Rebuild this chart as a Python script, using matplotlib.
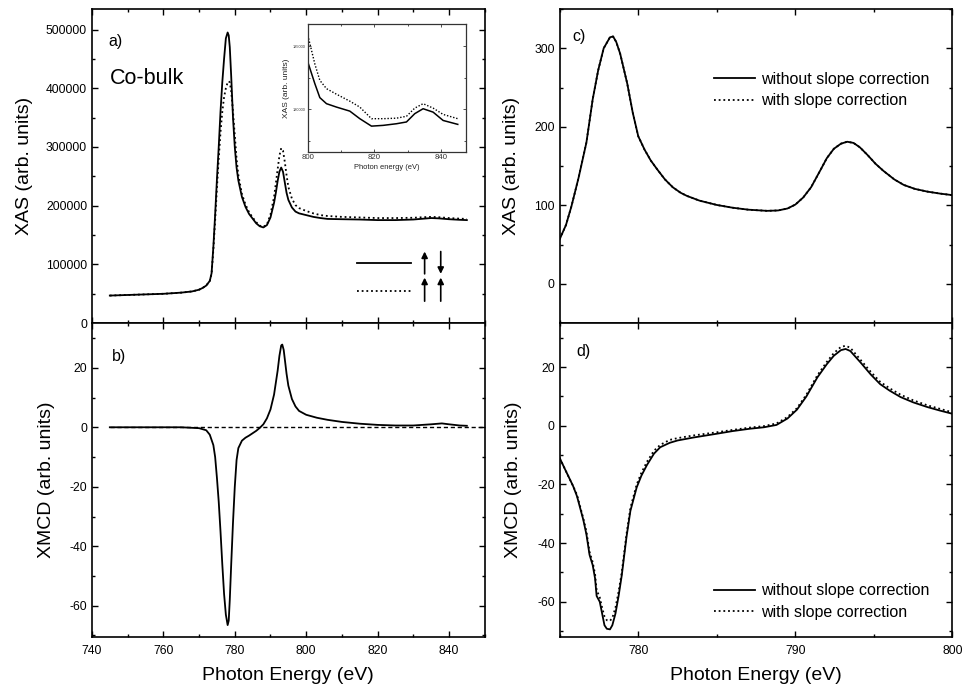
import numpy as np
import matplotlib
matplotlib.use('Agg')
import matplotlib.pyplot as plt
from matplotlib.lines import Line2D
from matplotlib.ticker import MultipleLocator

plt.rcParams['font.family'] = ['Liberation Sans', 'DejaVu Sans']
plt.rcParams['axes.unicode_minus'] = False

# panel a) XAS, Co-bulk (values in arb. units)
e_a = [745, 750, 755, 760, 765, 768, 770, 771, 772, 773, 773.5, 774, 774.5, 775, 775.5,
       776, 776.5, 777, 777.5, 778, 778.3, 778.6, 779, 779.5, 780, 780.5, 781, 782, 783,
       784, 785, 786, 787, 788, 789, 790, 791, 791.5, 792, 792.5, 793, 793.5, 794, 794.5,
       795, 796, 797, 798, 800, 802, 804, 806, 810, 815, 820, 825, 830, 833, 835, 837,
       840, 843, 845]
xas_anti = [47, 48, 49, 50, 52, 54, 57, 60, 64, 72, 85, 130, 185, 245, 300,
            360, 410, 450, 485, 495, 490, 470, 420, 350, 300, 265, 243, 215, 198,
            186, 178, 170, 165, 163, 167, 180, 205, 222, 242, 258, 265, 258, 240, 222,
            210, 197, 190, 187, 184, 181, 179, 177.5, 177, 176.5, 175.5, 175.5, 176.5, 178, 179, 178.5,
            177, 176, 175.5]
xas_par = [47, 48, 49, 50, 52, 54, 57, 60, 64, 72, 84, 125, 175, 230, 280,
           325, 360, 385, 400, 410, 412, 410, 395, 360, 320, 280, 252, 220, 202,
           189, 180, 172, 166, 164, 168, 185, 215, 238, 262, 285, 298, 294, 275, 252,
           232, 212, 201, 196, 191, 187, 184, 182.5, 181, 180, 179, 179, 179.5, 180.5, 181, 180.5,
           179, 178, 177.5]

# inset of a)
e_in = [800, 802.1, 803.6, 805.6, 808.6, 812.6, 815.6, 819.1, 822.6, 826.6, 829.6, 832.1,
        834.6, 837.6, 840.6, 845]
in_anti = [183750, 182040, 180930, 180450, 180180, 179860, 179260, 178670, 178730, 178860,
           179000, 179660, 180050, 179780, 179120, 178810]
in_par = [185870, 183600, 182300, 181640, 181200, 180650, 180180, 179260, 179260, 179300,
          179450, 180100, 180450, 180100, 179600, 179260]

# panel b) XMCD, Co-bulk
e_b = [745, 755, 765, 770, 772, 773, 774, 774.5, 775, 775.5, 776, 776.5, 777, 777.5, 778,
       778.3, 778.6, 779, 779.5, 780, 780.5, 781, 782, 783, 784, 785, 786, 787, 788, 789,
       790, 791, 792, 792.5, 793, 793.3, 793.7, 794, 794.5, 795, 796, 797, 798, 800, 803,
       806, 810, 815, 820, 825, 830, 835, 838, 840, 843, 845]
xmcd_b = [0, 0, 0, -0.3, -1, -2.5, -6, -10, -17, -25, -35, -46, -56, -63, -66.5,
          -65, -58, -46, -32, -20, -11, -7, -4.5, -3.5, -2.8, -2, -1.2, -0.2, 1, 3,
          6, 11, 19, 24, 27.5, 27.8, 26, 23, 18, 14, 9.5, 7, 5.5, 4.2, 3.2,
          2.5, 1.8, 1.2, 0.8, 0.6, 0.6, 1.0, 1.3, 1.0, 0.6, 0.5]
e_zero = [745, 850]
zero_ref = [0, 0]

# panel c) XAS, slope correction
e_c = [775.0, 775.4, 775.75, 776.2, 776.7, 777.1, 777.45, 777.8, 778.2, 778.4, 778.6, 778.85,
       779.3, 779.65, 780.0, 780.4, 780.8, 781.2, 781.7, 782.2, 782.7, 783.1, 783.9, 785, 786,
       787, 788.2, 788.9, 789.5, 790.0, 790.5, 791.0, 791.6, 792.0, 792.45, 792.9, 793.3, 793.7,
       794.1, 794.6, 795.1, 795.6, 796.3, 796.9, 797.6, 798.4, 799.2, 800]
xas_c_without = [57, 75, 99, 135, 180, 235, 272, 300, 314, 315, 308, 293,
                 255, 218, 188, 171, 157, 146, 133, 123, 116, 112, 106, 100.5, 97,
                 94.5, 93, 93.5, 96, 101, 110, 123, 145, 160, 172, 178.5, 181, 179.5,
                 174, 164, 153, 144, 133, 126, 121, 117.5, 115, 113]
xas_c_with = [57, 75, 99, 135, 180, 235, 272, 300, 314, 315, 308, 293,
              255, 218, 188, 171, 157, 146, 133, 123, 116, 112, 106, 100.5, 97,
              94.5, 93, 93.5, 96, 101, 110, 123, 145, 160, 172, 178.5, 181, 179.5,
              174, 164, 153, 144, 133, 126, 121, 117.5, 115, 113]

# panel d) XMCD, slope correction
e_d = [775.0, 775.4, 775.85, 776.1, 776.3, 776.5, 776.7, 776.9, 777.1, 777.25, 777.35, 777.55,
       777.7, 777.85, 778.0, 778.2, 778.35, 778.55, 778.75, 778.95, 779.25, 779.5, 779.9, 780.2,
       780.55, 781.0, 781.4, 782.0, 782.5, 783.5, 785, 786, 787.1, 788, 788.8, 789.5, 790.1,
       790.7, 791.4, 792, 792.45, 792.9, 793.2, 793.5, 794.15, 794.8, 795.4, 796, 796.7, 797.5,
       798.4, 799.2, 800]
xmcd_d_without = [-11, -15.5, -20.5, -24, -28, -32, -37, -44, -47.5, -52, -58, -60,
                  -64, -68, -69.2, -69.4, -68, -64, -58, -51, -38, -29, -21, -17,
                  -13.4, -9.5, -7.3, -5.8, -5.0, -4.0, -2.7, -1.8, -1.0, -0.5, 0.3, 2.5, 5.5,
                  10, 16.5, 21, 23.9, 25.8, 26.2, 25.5, 21.6, 17.5, 14.2, 12, 9.8, 8,
                  6.4, 5.2, 4.1]
xmcd_d_with = [-11, -15.5, -20.5, -23.5, -27.5, -31.5, -36, -43, -46.5, -50.5, -56, -58.5,
               -62, -65, -66.3, -66.5, -65.5, -62, -56.5, -50, -37, -28, -20, -16,
               -12.3, -8.5, -6.5, -4.8, -4.2, -3.3, -2.2, -1.4, -0.6, -0.1, 0.8, 3, 6,
               10.6, 17.2, 21.8, 24.8, 26.9, 27.3, 26.6, 22.5, 18.4, 15.0, 12.8, 10.6, 8.7,
               7.0, 5.8, 4.6]

DOT = (0, (1, 1.6))
LW = 1.3
TICK_FS = 8.7
LABEL_FS = 14


def style_axes(ax):
    for s in ax.spines.values():
        s.set_linewidth(1.2)
    ax.tick_params(which='both', direction='in', top=True, right=True, labelsize=TICK_FS, width=1)
    ax.tick_params(which='major', length=4)
    ax.tick_params(which='minor', length=2.5)
    ax.tick_params(axis='x', pad=6)


fig = plt.figure(figsize=(9.65, 6.92), dpi=100)
ax_a = fig.add_axes([0.0953, 0.533, 0.407, 0.454])
ax_b = fig.add_axes([0.0953, 0.0795, 0.407, 0.4535])
ax_c = fig.add_axes([0.580, 0.533, 0.407, 0.454])
ax_d = fig.add_axes([0.580, 0.0795, 0.407, 0.4535])

# a)
ax_a.plot(e_a, np.array(xas_anti) * 1000, color='k', lw=LW)
ax_a.plot(e_a, np.array(xas_par) * 1000, color='k', lw=LW, linestyle=DOT)
ax_a.set_xlim(740, 850)
ax_a.set_ylim(0, 535000)
ax_a.xaxis.set_major_locator(MultipleLocator(20))
ax_a.xaxis.set_minor_locator(MultipleLocator(10))
ax_a.yaxis.set_major_locator(MultipleLocator(100000))
ax_a.yaxis.set_minor_locator(MultipleLocator(50000))
style_axes(ax_a)
ax_a.tick_params(axis='x', labelbottom=False)
ax_a.set_ylabel('XAS (arb. units)', fontsize=LABEL_FS)
ax_a.yaxis.set_label_coords(-0.15, 0.5)
ax_a.text(0.043, 0.898, 'a)', transform=ax_a.transAxes, fontsize=11.5, va='center')
ax_a.text(0.046, 0.78, 'Co-bulk', transform=ax_a.transAxes, fontsize=15.5, va='center')

# spin-configuration key with arrows
ax_a.add_line(Line2D([0.674, 0.812], [0.191, 0.191], transform=ax_a.transAxes, color='k', lw=LW))
ax_a.add_line(Line2D([0.674, 0.812], [0.103, 0.103], transform=ax_a.transAxes, color='k', lw=LW,
                     linestyle=DOT))
arr = dict(arrowstyle='-|>', color='k', lw=1.2, mutation_scale=9, shrinkA=0, shrinkB=0)
ax_a.annotate('', xy=(0.847, 0.228), xytext=(0.847, 0.157), xycoords='axes fraction', arrowprops=arr)
ax_a.annotate('', xy=(0.888, 0.157), xytext=(0.888, 0.228), xycoords='axes fraction', arrowprops=arr)
ax_a.annotate('', xy=(0.847, 0.145), xytext=(0.847, 0.070), xycoords='axes fraction', arrowprops=arr)
ax_a.annotate('', xy=(0.888, 0.145), xytext=(0.888, 0.070), xycoords='axes fraction', arrowprops=arr)

# inset
ax_in = fig.add_axes([0.319, 0.780, 0.164, 0.185])
ax_in.plot(e_in, in_anti, color='k', lw=1.1)
ax_in.plot(e_in, in_par, color='k', lw=1.0, linestyle=(0, (1, 1.3)))
ax_in.set_xlim(800, 847.5)
ax_in.set_ylim(176600, 186750)
ax_in.xaxis.set_major_locator(MultipleLocator(20))
ax_in.xaxis.set_minor_locator(MultipleLocator(10))
ax_in.yaxis.set_major_locator(MultipleLocator(5000))
ax_in.yaxis.set_minor_locator(MultipleLocator(2500))
for s in ax_in.spines.values():
    s.set_linewidth(0.9)
    s.set_color('#333333')
ax_in.tick_params(which='both', direction='in', top=True, right=True, width=0.6, colors='#333333')
ax_in.tick_params(which='major', length=2.5, pad=1.5)
ax_in.tick_params(which='minor', length=1.5)
ax_in.tick_params(axis='x', labelsize=5.6)
ax_in.tick_params(axis='y', labelsize=2.8)
ax_in.set_xlabel('Photon energy (eV)', fontsize=5.4, labelpad=2, color='#222222')
ax_in.set_ylabel('XAS (arb. units)', fontsize=6, labelpad=2, color='#222222')

# b)
ax_b.plot(e_zero, zero_ref, color='k', lw=1.0, linestyle=(0, (3, 2)))
ax_b.plot(e_b, xmcd_b, color='k', lw=LW)
ax_b.set_xlim(740, 850)
ax_b.set_ylim(-70.5, 35)
ax_b.xaxis.set_major_locator(MultipleLocator(20))
ax_b.xaxis.set_minor_locator(MultipleLocator(10))
ax_b.yaxis.set_major_locator(MultipleLocator(20))
ax_b.yaxis.set_minor_locator(MultipleLocator(10))
style_axes(ax_b)
ax_b.set_ylabel('XMCD (arb. units)', fontsize=LABEL_FS)
ax_b.yaxis.set_label_coords(-0.094, 0.5)
ax_b.set_xlabel('Photon Energy (eV)', fontsize=LABEL_FS, labelpad=7)
ax_b.text(0.05, 0.895, 'b)', transform=ax_b.transAxes, fontsize=11.5, va='center')

# c)
ax_c.plot(e_c, xas_c_without, color='k', lw=LW, label='without slope correction')
ax_c.plot(e_c, xas_c_with, color='k', lw=LW, linestyle=DOT, label='with slope correction')
ax_c.set_xlim(775, 800)
ax_c.set_ylim(-50, 350)
ax_c.xaxis.set_major_locator(MultipleLocator(10))
ax_c.xaxis.set_minor_locator(MultipleLocator(5))
ax_c.yaxis.set_major_locator(MultipleLocator(100))
ax_c.yaxis.set_minor_locator(MultipleLocator(50))
style_axes(ax_c)
ax_c.tick_params(axis='x', labelbottom=False)
ax_c.set_ylabel('XAS (arb. units)', fontsize=LABEL_FS)
ax_c.yaxis.set_label_coords(-0.102, 0.5)
ax_c.text(0.033, 0.914, 'c)', transform=ax_c.transAxes, fontsize=11.5, va='center')
ax_c.legend(loc='upper left', bbox_to_anchor=(0.392, 0.80), frameon=False, fontsize=11.5,
            handlelength=2.6, handletextpad=0.35, labelspacing=0.4, borderpad=0, borderaxespad=0)

# d)
ax_d.plot(e_d, xmcd_d_without, color='k', lw=LW, label='without slope correction')
ax_d.plot(e_d, xmcd_d_with, color='k', lw=LW, linestyle=DOT, label='with slope correction')
ax_d.set_xlim(775, 800)
ax_d.set_ylim(-72, 35)
ax_d.xaxis.set_major_locator(MultipleLocator(10))
ax_d.xaxis.set_minor_locator(MultipleLocator(5))
ax_d.yaxis.set_major_locator(MultipleLocator(20))
ax_d.yaxis.set_minor_locator(MultipleLocator(10))
style_axes(ax_d)
ax_d.set_ylabel('XMCD (arb. units)', fontsize=LABEL_FS)
ax_d.yaxis.set_label_coords(-0.097, 0.5)
ax_d.set_xlabel('Photon Energy (eV)', fontsize=LABEL_FS, labelpad=7)
ax_d.text(0.042, 0.911, 'd)', transform=ax_d.transAxes, fontsize=11.5, va='center')
ax_d.legend(loc='lower left', bbox_to_anchor=(0.392, 0.055), frameon=False, fontsize=11.5,
            handlelength=2.6, handletextpad=0.35, labelspacing=0.4, borderpad=0, borderaxespad=0)

fig.savefig('out.png', dpi=100)
